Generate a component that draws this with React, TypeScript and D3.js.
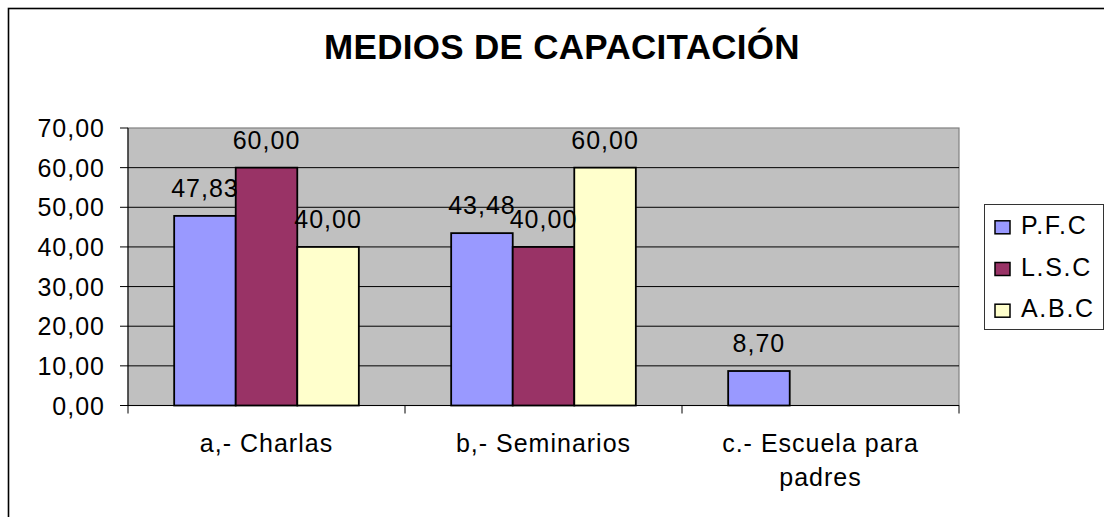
import React from "react";
import * as d3 from "d3";

const title = "MEDIOS DE CAPACITACIÓN";
const categories = ["a,- Charlas", "b,- Seminarios", "c.- Escuela para padres"];
const categoryLines = [["a,- Charlas"], ["b,- Seminarios"], ["c.- Escuela para", "padres"]];
const seriesNames = ["P.F.C", "L.S.C", "A.B.C"];
const seriesColors = ["#9999FF", "#993366", "#FFFFCC"];
const pfc = [47.83, 43.48, 8.7];
const lsc = [60.0, 40.0, null];
const abc = [40.0, 60.0, null];
const yTicks = [0, 10, 20, 30, 40, 50, 60, 70];

const W = 1104;
const H = 517;
const FONT = "'Liberation Sans', Arial, Helvetica, sans-serif";

const locale = d3.formatLocale({ decimal: ",", thousands: ".", grouping: [3], currency: ["", ""] });
const fmt = locale.format(".2f");

export default function App() {
  const series = [pfc, lsc, abc];
  const left = 128, right = 959, top = 128, bottom = 405.5;
  const x0 = d3.scaleBand<string>().domain(categories).range([left, right]).paddingInner(0).paddingOuter(0);
  const x1 = d3.scaleBand<string>().domain(seriesNames).range([0, x0.bandwidth()]).paddingInner(0).paddingOuter(0.75);
  const y = d3.scaleLinear().domain([0, 70]).range([bottom, top]);

  const bars: any[] = [];
  categories.forEach((c, ci) => {
    seriesNames.forEach((s, si) => {
      const v = series[si][ci];
      if (v === null || v === undefined) return;
      bars.push({ c, s, si, v, x: (x0(c) as number) + (x1(s) as number), w: x1.bandwidth() });
    });
  });

  const boundaries = categories.map((c) => x0(c) as number).concat([right]);

  return (
    <svg width={W} height={H} style={{ position: "fixed", left: 0, top: 0, background: "#fff" }} fontFamily={FONT}>
      <rect x={0} y={0} width={W} height={H} fill="#fff" />
      {/* outer frame */}
      <rect x={8.5} y={8.5} width={W + 20} height={H + 20} fill="none" stroke="#000" strokeWidth={1.6} />
      <text x={562} y={59} textAnchor="middle" fontSize={35} fontWeight="bold" letterSpacing={0.3} fill="#000">
        {title}
      </text>
      {/* plot area */}
      <rect x={left} y={top} width={right - left} height={bottom - top} fill="#C0C0C0" stroke="#808080" strokeWidth={1.2} />
      {yTicks.filter((t) => t > 0 && t < 70).map((t) => (
        <line key={"g" + t} x1={left} x2={right} y1={y(t)} y2={y(t)} stroke="#000" strokeWidth={1} />
      ))}
      {/* y axis */}
      <line x1={left} x2={left} y1={top} y2={bottom} stroke="#000" strokeWidth={1} />
      {yTicks.map((t) => (
        <g key={"t" + t}>
          <line x1={left - 8} x2={left} y1={y(t)} y2={y(t)} stroke="#000" strokeWidth={1} />
          <text x={105} y={y(t)} dy="0.36em" textAnchor="end" fontSize={25} letterSpacing={1} fill="#000">
            {fmt(t)}
          </text>
        </g>
      ))}
      {/* bars */}
      {bars.map((b, i) => (
        <rect key={"b" + i} x={b.x} y={y(b.v)} width={b.w} height={y(0) - y(b.v)} fill={seriesColors[b.si]} stroke="#000" strokeWidth={1.8} />
      ))}
      {/* x axis */}
      <line x1={left} x2={right} y1={bottom} y2={bottom} stroke="#000" strokeWidth={1} />
      {boundaries.map((bx, i) => (
        <line key={"xt" + i} x1={bx} x2={bx} y1={bottom} y2={bottom + 8} stroke="#000" strokeWidth={1} />
      ))}
      {/* data labels */}
      {bars.map((b, i) => (
        <text key={"l" + i} x={b.x + b.w / 2} y={y(b.v) - 19} textAnchor="middle" fontSize={25} letterSpacing={1} fill="#000">
          {fmt(b.v)}
        </text>
      ))}
      {/* category labels */}
      {categories.map((c, ci) => (
        <text key={"c" + ci} x={(x0(c) as number) + x0.bandwidth() / 2} y={452} textAnchor="middle" fontSize={25} letterSpacing={1} fill="#000">
          {categoryLines[ci].map((ln, li) => (
            <tspan key={li} x={(x0(c) as number) + x0.bandwidth() / 2} dy={li === 0 ? 0 : 34}>
              {ln}
            </tspan>
          ))}
        </text>
      ))}
      {/* legend */}
      <rect x={984.5} y={204.5} width={119} height={125} fill="#fff" stroke="#333" strokeWidth={1} />
      {seriesNames.map((s, si) => {
        const base = 233.8 + si * 41.7;
        return (
          <g key={"lg" + s}>
            <rect x={995} y={base - 13} width={15} height={13} fill={seriesColors[si]} stroke="#000" strokeWidth={1.5} />
            <text x={1021} y={base} fontSize={25} letterSpacing={1.7} fill="#000">
              {s}
            </text>
          </g>
        );
      })}
    </svg>
  );
}
